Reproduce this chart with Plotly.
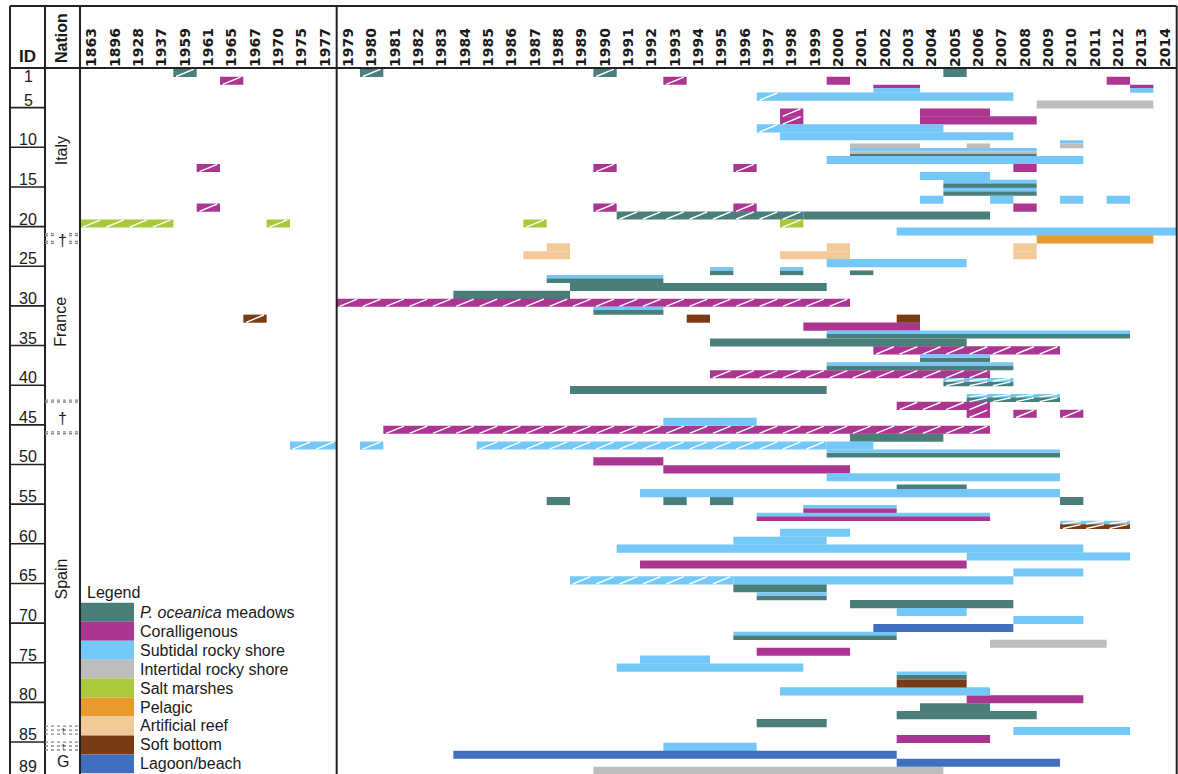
import plotly.graph_objects as go

# ---------------- data ----------------
YEARS = ["1863", "1896", "1928", "1937", "1959", "1961", "1965", "1967", "1970", "1975", "1977",
         "1979", "1980", "1981", "1982", "1983", "1984", "1985", "1986", "1987", "1988", "1989",
         "1990", "1991", "1992", "1993", "1994", "1995", "1996", "1997", "1998", "1999", "2000",
         "2001", "2002", "2003", "2004", "2005", "2006", "2007", "2008", "2009", "2010", "2011",
         "2012", "2013", "2014"]

ID_TICKS = [1, 5, 10, 15, 20, 25, 30, 35, 40, 45, 50, 55, 60, 65, 70, 75, 80, 85, 89]

NATIONS = ["Italy", "\u2020", "France", "\u2020", "Spain", "G"]
NATION_FIRST = [1, 22, 23, 43, 47, 87]
NATION_LAST = [21, 22, 42, 46, 83, 89]
SMALL_DAGGER_ROWS = [84, 86]

HAB_NAMES = ["<i>P. oceanica</i> meadows", "Coralligenous", "Subtidal rocky shore",
             "Intertidal rocky shore", "Salt marshes", "Pelagic", "Artificial reef",
             "Soft bottom", "Lagoon/beach"]
HAB_COLORS = ["#4A7E7B", "#AD3592", "#74C8F8", "#BDBDBD", "#A9C83C",
              "#E89A2C", "#F2CA9A", "#7A3B14", "#3F6FBE"]

# (ID row, first year, last year, hatched, strip "i/n" within the row or "" for full)
OCEANICA = [
    (1, "1959", "1959", 1, ""), (1, "1980", "1980", 1, ""), (1, "1990", "1990", 1, ""),
    (1, "2005", "2005", 0, ""), (11, "2001", "2008", 0, "3/3"), (15, "2005", "2008", 0, "2/2"),
    (16, "2005", "2008", 0, "2/2"), (19, "1991", "1998", 1, ""), (19, "1999", "2006", 0, ""),
    (26, "1995", "1995", 0, "2/2"), (26, "1998", "1998", 0, "2/2"), (26, "2001", "2001", 0, "2/2"),
    (27, "1988", "1992", 0, "2/2"), (28, "1989", "1999", 0, ""), (29, "1984", "1988", 0, ""),
    (31, "1990", "1992", 0, "2/2"), (34, "2000", "2012", 0, "2/2"), (35, "1995", "2005", 0, ""),
    (37, "2004", "2006", 0, "2/2"), (38, "2000", "2007", 0, "2/2"), (40, "2005", "2007", 1, "2/2"),
    (41, "1989", "1999", 0, ""), (42, "2006", "2009", 1, "2/2"), (47, "2001", "2004", 0, ""),
    (49, "2000", "2009", 0, "2/2"), (53, "2003", "2005", 0, "2/2"), (55, "1988", "1988", 0, ""),
    (55, "1993", "1993", 0, ""), (55, "1995", "1995", 0, ""), (55, "2010", "2010", 0, ""),
    (66, "1996", "1999", 0, ""), (67, "1997", "1999", 0, "2/2"), (68, "2001", "2007", 0, ""),
    (72, "1996", "2002", 0, "2/2"), (77, "2003", "2005", 0, "2/2"), (81, "2004", "2006", 0, ""),
    (82, "2003", "2008", 0, ""), (83, "1997", "1999", 0, ""),
]
CORALLIGENOUS = [
    (2, "1965", "1965", 1, ""), (2, "1993", "1993", 1, ""), (2, "2000", "2000", 0, ""),
    (2, "2012", "2012", 0, ""), (3, "2002", "2003", 0, "1/2"), (3, "2013", "2013", 0, "1/2"),
    (6, "1998", "1998", 1, ""), (6, "2004", "2006", 0, ""), (7, "1998", "1998", 1, ""),
    (7, "2004", "2008", 0, ""), (13, "1961", "1961", 1, ""), (13, "1990", "1990", 1, ""),
    (13, "1996", "1996", 1, ""), (13, "2008", "2008", 0, ""), (18, "1961", "1961", 1, ""),
    (18, "1990", "1990", 1, ""), (18, "1996", "1996", 1, ""), (18, "2008", "2008", 0, ""),
    (30, "1979", "2000", 1, ""), (33, "1999", "2003", 0, ""), (36, "2002", "2009", 1, ""),
    (39, "1995", "2006", 1, ""), (43, "2003", "2006", 1, ""), (44, "2006", "2006", 1, ""),
    (44, "2008", "2008", 1, ""), (44, "2010", "2010", 1, ""), (46, "1981", "2006", 1, ""),
    (50, "1990", "1992", 0, ""), (51, "1993", "2000", 0, ""), (56, "1999", "2002", 0, "2/2"),
    (57, "1997", "2006", 0, "2/2"), (63, "1992", "2005", 0, ""), (74, "1997", "2000", 0, ""),
    (80, "2006", "2010", 0, ""), (85, "2003", "2006", 0, ""),
]
SUBTIDAL = [
    (3, "2002", "2003", 0, "2/2"), (3, "2013", "2013", 0, "2/2"), (4, "1997", "1997", 1, ""),
    (4, "1998", "2007", 0, ""), (8, "1997", "1997", 1, ""), (8, "1998", "2004", 0, ""),
    (9, "1998", "2007", 0, ""), (10, "2010", "2010", 0, "1/2"), (11, "2001", "2008", 0, "1/3"),
    (12, "2000", "2010", 0, ""), (14, "2004", "2006", 0, ""), (15, "2005", "2008", 0, "1/2"),
    (16, "2005", "2008", 0, "1/2"), (17, "2004", "2004", 0, ""), (17, "2007", "2007", 0, ""),
    (17, "2010", "2010", 0, ""), (17, "2012", "2012", 0, ""), (21, "2003", "2014", 0, ""),
    (25, "2000", "2005", 0, ""), (26, "1995", "1995", 0, "1/2"), (26, "1998", "1998", 0, "1/2"),
    (27, "1988", "1992", 0, "1/2"), (31, "1990", "1992", 0, "1/2"), (34, "2000", "2012", 0, "1/2"),
    (37, "2004", "2006", 0, "1/2"), (38, "2000", "2007", 0, "1/2"), (40, "2005", "2007", 1, "1/2"),
    (42, "2006", "2009", 1, "1/2"), (45, "1993", "1996", 0, ""), (48, "1975", "1977", 1, ""),
    (48, "1980", "1980", 1, ""), (48, "1985", "1999", 1, ""), (48, "2000", "2001", 0, ""),
    (49, "2000", "2009", 0, "1/2"), (52, "2000", "2009", 0, ""), (54, "1992", "2009", 0, ""),
    (56, "1999", "2002", 0, "1/2"), (57, "1997", "2006", 0, "1/2"), (58, "2010", "2012", 1, "1/2"),
    (59, "1998", "2000", 0, ""), (60, "1996", "1999", 0, ""), (61, "1991", "2010", 0, ""),
    (62, "2006", "2012", 0, ""), (64, "2008", "2010", 0, ""), (65, "1989", "1995", 1, ""),
    (65, "1996", "2007", 0, ""), (67, "1997", "1999", 0, "1/2"), (69, "2003", "2005", 0, ""),
    (70, "2008", "2010", 0, ""), (72, "1996", "2002", 0, "1/2"), (75, "1992", "1994", 0, ""),
    (76, "1991", "1998", 0, ""), (77, "2003", "2005", 0, "1/2"), (79, "1998", "2006", 0, ""),
    (84, "2008", "2012", 0, ""), (86, "1993", "1996", 0, ""),
]
INTERTIDAL = [
    (5, "2009", "2013", 0, ""), (10, "2001", "2003", 0, "2/2"), (10, "2006", "2006", 0, "2/2"),
    (10, "2010", "2010", 0, "2/2"), (11, "2001", "2008", 0, "2/3"), (73, "2007", "2011", 0, ""),
    (89, "1990", "2004", 0, ""),
]
SALT_MARSH = [
    (20, "1863", "1937", 1, ""), (20, "1970", "1970", 1, ""), (20, "1987", "1987", 1, ""),
    (20, "1998", "1998", 1, ""),
]
PELAGIC = [(22, "2009", "2013", 0, "")]
ARTIFICIAL = [
    (23, "1988", "1988", 0, ""), (23, "2000", "2000", 0, ""), (23, "2008", "2008", 0, ""),
    (24, "1987", "1988", 0, ""), (24, "1998", "2000", 0, ""), (24, "2008", "2008", 0, ""),
]
SOFT_BOTTOM = [
    (32, "1967", "1967", 1, ""), (32, "1994", "1994", 0, ""), (32, "2003", "2003", 0, ""),
    (58, "2010", "2012", 1, "2/2"), (78, "2003", "2005", 0, ""),
]
LAGOON = [(71, "2002", "2007", 0, ""), (87, "1984", "2002", 0, ""), (88, "2003", "2009", 0, "")]

HAB_SEGMENTS = [OCEANICA, CORALLIGENOUS, SUBTIDAL, INTERTIDAL, SALT_MARSH,
                PELAGIC, ARTIFICIAL, SOFT_BOTTOM, LAGOON]

# ---------------- geometry / style ----------------
W, H = 1178, 774
TOP = 6          # outer frame top (px)
HEAD = 68        # header bottom line (px)
X_L = 10         # outer frame left
X_ID = 45        # ID | Nation border
X_PL = 80        # plot left
X_PR = 1176.7    # plot right
ROW_H = 7.93     # px per ID row
BAR_TOP, BAR_BOT = -0.4, 0.62
STRIP_EDGES = {1: [0, 1], 2: [0, 0.42, 1], 3: [0, 0.4, 0.67, 1]}
FONT = "Liberation Sans, Arial, sans-serif"
INK = "#1a1a1a"

col = {y: i for i, y in enumerate(YEARS)}


def px(x):
    return x / W


def py(y):
    return 1 - y / H


def strip_span(row, strip):
    i, n = (1, 1) if not strip else map(int, strip.split("/"))
    e = STRIP_EDGES[n]
    top = row + BAR_TOP + (BAR_BOT - BAR_TOP) * e[i - 1]
    bot = row + BAR_TOP + (BAR_BOT - BAR_TOP) * e[i]
    return top, bot


def note(x, y, text, size=16, xref="paper", yref="paper", xanchor="center", yanchor="middle", **kw):
    return dict(xref=xref, yref=yref, x=x, y=y, text=text, showarrow=False,
                xanchor=xanchor, yanchor=yanchor,
                font=dict(size=size, family=FONT, color=INK), **kw)


fig = go.Figure()

hx, hy = [], []
for segs, color in zip(HAB_SEGMENTS, HAB_COLORS):
    ys, ws, bases, lens = [], [], [], []
    for row, y0, y1, hatched, strip in segs:
        top, bot = strip_span(row, strip)
        c0, c1 = col[y0], col[y1]
        ys.append((top + bot) / 2)
        ws.append(bot - top)
        bases.append(c0)
        lens.append(c1 - c0 + 1)
        if hatched:
            for c in range(c0, c1 + 1):
                hx += [c + 0.12, c + 0.88, None]
                hy += [bot - 0.05, top + 0.05, None]
    fig.add_trace(go.Bar(orientation="h", y=ys, x=lens, base=bases, width=ws,
                         marker=dict(color=color, line=dict(width=0)),
                         hoverinfo="skip", showlegend=False))

fig.add_trace(go.Scatter(x=hx, y=hy, mode="lines", line=dict(color="white", width=1.4),
                         hoverinfo="skip", showlegend=False))

shapes = []
annots = []
LINE = dict(color="#222222", width=2)

# outer frame and column borders
shapes.append(dict(type="line", xref="paper", yref="paper", x0=px(X_L), x1=px(X_PR), y0=py(TOP), y1=py(TOP), line=LINE))
shapes.append(dict(type="line", xref="paper", yref="paper", x0=px(X_L), x1=px(X_PR), y0=py(HEAD), y1=py(HEAD), line=LINE))
for xv in (X_L, X_ID, X_PL, X_PR):
    shapes.append(dict(type="line", xref="paper", yref="paper", x0=px(xv), x1=px(xv), y0=0, y1=py(TOP), line=LINE))
shapes.append(dict(type="line", xref="x", yref="paper", x0=col["1979"], x1=col["1979"], y0=0, y1=py(TOP), line=LINE))

# ID column labels and separators
for k in ID_TICKS:
    annots.append(note(px((X_L + X_ID) / 2 + 0.5), max(k - 0.45, 1.6), str(k), yref="y"))
    if k % 5 == 0:
        shapes.append(dict(type="line", xref="paper", yref="y", x0=px(X_L), x1=px(X_ID),
                           y0=k + 0.5, y1=k + 0.5, line=dict(color="#222222", width=1.6)))

# nation column
DOT = dict(color="#8a8a8a", width=1.3, dash="dot")
XN = px((X_ID + X_PL) / 2)
for name, a, b in zip(NATIONS, NATION_FIRST, NATION_LAST):
    mid = (a + b) / 2
    if name == "\u2020":
        for yv in (a - 0.5, b + 0.5):
            for d in (-0.12, 0.12):
                shapes.append(dict(type="line", xref="paper", yref="y", x0=px(X_ID), x1=px(X_PL),
                                   y0=yv + d, y1=yv + d, line=DOT))
        annots.append(note(XN, mid + 0.2, name, yref="y", bgcolor="white"))
    elif len(name) == 1:
        annots.append(note(XN, mid, name, yref="y"))
    else:
        annots.append(note(px((X_ID + X_PL) / 2 - 1.5), mid, name, yref="y", textangle=-90))
for r in SMALL_DAGGER_ROWS:
    for yv in (r - 0.5, r, r + 0.5):
        shapes.append(dict(type="line", xref="paper", yref="y", x0=px(X_ID), x1=px(X_PL),
                           y0=yv, y1=yv, line=DOT))
    annots.append(note(XN, r, "\u2020", size=8, yref="y"))

# header texts
annots.append(note(px(27.5), py(56.5), "<b>ID</b>", size=17))
annots.append(note(px(61), py(38), "<b>Nation</b>", textangle=-90))

# legend (drawn as a table-like key)
LEG_TOP, LEG_STEP = 602.8, 18.95
annots.append(note(px(85), py(592), "Legend", xanchor="left"))
for i, (name, color) in enumerate(zip(HAB_NAMES, HAB_COLORS)):
    y0 = LEG_TOP + i * LEG_STEP
    shapes.append(dict(type="rect", xref="paper", yref="paper", x0=px(81), x1=px(134),
                       y0=py(y0 + LEG_STEP), y1=py(y0), fillcolor=color, line=dict(width=0), layer="above"))
    annots.append(note(px(138), py(y0 + LEG_STEP / 2), name, xanchor="left"))

fig.update_layout(
    width=W, height=H, margin=dict(l=0, r=0, t=0, b=0),
    paper_bgcolor="white", plot_bgcolor="white", barmode="overlay", showlegend=False,
    font=dict(family=FONT, color=INK), shapes=shapes, annotations=annots,
)
fig.update_xaxes(domain=[px(X_PL), px(X_PR)], range=[0, len(YEARS)], side="top",
                 tickmode="array", tickvals=[i + 0.5 for i in range(len(YEARS))], ticktext=YEARS,
                 tickangle=-90, tickfont=dict(family="DejaVu Sans", size=14, weight="bold", color=INK),
                 showgrid=False, zeroline=False, showline=False, ticks="", automargin=False, fixedrange=True)
fig.update_yaxes(domain=[0, py(HEAD)], range=[0.5 + (H - HEAD) / ROW_H, 0.5], showticklabels=False,
                 showgrid=False, zeroline=False, showline=False, ticks="", automargin=False, fixedrange=True)

fig.write_html("out.html", config={"displayModeBar": False},
               post_script="document.body.style.margin='0';document.body.style.overflow='hidden';")
